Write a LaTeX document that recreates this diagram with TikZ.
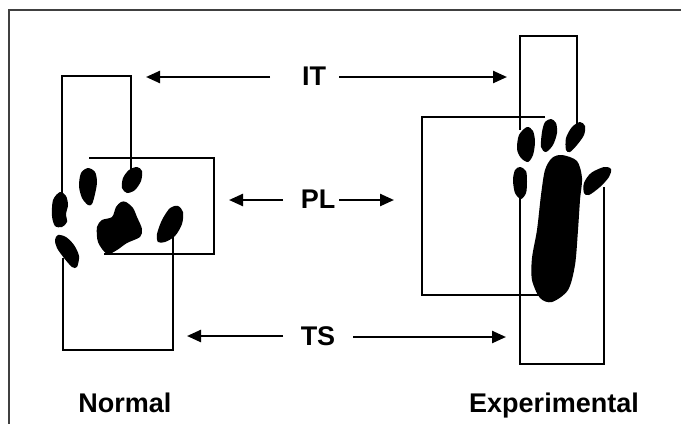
\documentclass[tikz,border=0pt]{standalone}
\usepackage{fontspec}
\setmainfont{Liberation Sans}
\usetikzlibrary{arrows.meta}

\begin{document}
\begin{tikzpicture}[x=1pt,y=-1pt,
		lbl/.style={font=\fontsize{27}{30}\selectfont\bfseries,inner sep=0pt,anchor=base},
		arr/.style={line width=2.4pt,-{Triangle[length=14pt,width=12pt]}},
		box/.style={line width=1.4pt,line join=miter},
		pad/.style={fill=black,draw=none}]
		\useasboundingbox (0,0) rectangle (681,424);
		\draw[line width=1.2pt,black!75] (681,10) -- (9,10) -- (9,424);
		% labels
		\node[lbl] (it) at (314,85){IT};
		\node[lbl] (pl) at (318,208){PL};
		\node[lbl] (ts) at (318,345){TS};
		\node[lbl] (normal) at (125,412){Normal};
		\node[lbl] (exper) at (554,412){Experimental};
		% arrow ends
		\coordinate (itA) at (270,77); \coordinate (itB) at (146,77);
		\coordinate (itC) at (339,77); \coordinate (itD) at (507,77);
		\coordinate (plA) at (283,200); \coordinate (plB) at (229,200);
		\coordinate (plC) at (339,200); \coordinate (plD) at (394,200);
		\coordinate (tsA) at (283,336); \coordinate (tsB) at (187,336);
		\coordinate (tsC) at (353,337); \coordinate (tsD) at (506,337);
		\draw[arr] (itA) -- (itB);
		\draw[arr] (itC) -- (itD);
		\draw[arr] (plA) -- (plB);
		\draw[arr] (plC) -- (plD);
		\draw[arr] (tsA) -- (tsB);
		\draw[arr] (tsC) -- (tsD);
		% normal paw boxes
		\draw[box] (62,193) -- (62,76) -- (131,76) -- (131,169);
		\draw[box] (89,158) -- (214,158) -- (214,254) -- (104,254);
		\draw[box] (63,258) -- (63,350) -- (173,350) -- (173,236);
		% normal paw
		\fill[pad] plot[smooth cycle] coordinates {(60,192) (66,196) (68,205) (66,214) (67,222) (62,227) (55,226) (52,216) (53,200)};
		\fill[pad] plot[smooth cycle] coordinates {(88,168) (95,172) (97,182) (95,194) (92,204) (88,205) (82,198) (79,186) (81,173)};
		\fill[pad] plot[smooth cycle] coordinates {(137,167) (142,171) (141,181) (135,190) (127,193) (122,188) (123,178) (129,170)};
		\fill[pad] plot[smooth cycle] coordinates {(58,235) (66,237) (74,245) (79,256) (77,267) (72,267) (64,258) (57,248) (55,240)};
		\fill[pad] plot[smooth cycle] coordinates {(126,202) (133,208) (137,217) (142,229) (140,237) (127,243) (117,250) (107,254) (98,242) (97,227) (102,220) (112,217) (116,207) (121,202)};
		\fill[pad] plot[smooth cycle] coordinates {(178,206) (183,212) (182,224) (175,236) (165,242) (158,242) (157,234) (162,220) (170,208)};
		% experimental paw boxes
		\draw[box] (520,130) -- (520,36) -- (577,36) -- (577,124);
		\draw[box] (545,117) -- (422,117) -- (422,295) -- (540,295);
		\draw[box] (520,197) -- (520,364) -- (604,364) -- (604,187);
		% experimental paw
		\fill[pad] plot[smooth cycle] coordinates {(527,127) (533,131) (535,142) (533,155) (528,162) (521,158) (517,149) (519,135)};
		\fill[pad] plot[smooth cycle] coordinates {(551,119) (556,123) (557,133) (553,145) (546,152) (541,147) (542,132) (545,122)};
		\fill[pad] plot[smooth cycle] coordinates {(580,122) (585,126) (584,135) (577,145) (570,152) (566,150) (566,138) (572,127)};
		\fill[pad] plot[smooth cycle] coordinates {(520,167) (526,171) (527,182) (526,193) (521,199) (515,193) (513,180) (515,170)};
		\fill[pad] plot[smooth cycle] coordinates {(604,167) (611,169) (609,177) (600,187) (589,195) (584,193) (584,183) (591,173)};
		\fill[pad] plot[smooth cycle] coordinates {(562,155) (577,161) (582,178) (580,200) (578,230) (575,265) (568,290) (552,302) (540,298) (532,280) (532,258) (537,230) (541,195) (545,170) (552,158)};
	\end{tikzpicture}
\end{document}
